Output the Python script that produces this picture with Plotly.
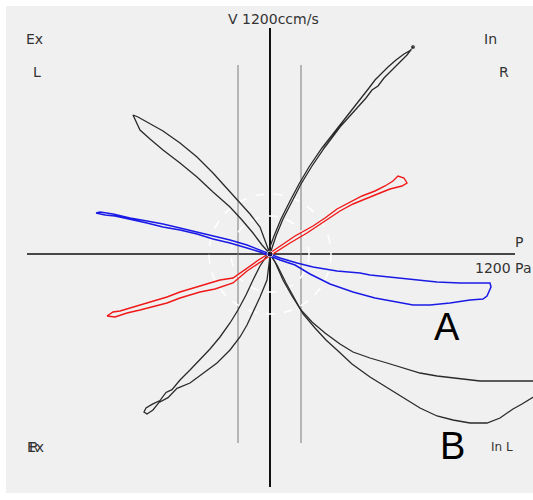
import plotly.graph_objects as go

# courbes pression (Pa) / débit (ccm/s)
# boucle noire haut-droite (In R)
ur_x = [0, 30, 65, 110, 155, 210, 275, 350, 425, 480, 510, 540, 570, 610, 650, 685, 715,
        705, 670, 630, 590, 555, 525, 495, 460, 400, 335, 260, 195, 145, 100, 55, 20, -10]
ur_y = [0, 90, 175, 265, 350, 440, 535, 635, 720, 780, 820, 840, 880, 920, 960, 995, 1035,
        1020, 1000, 970, 935, 900, 870, 830, 785, 705, 625, 530, 435, 350, 265, 175, 90, 10]

# boucle noire bas-gauche
ll_x = [0, -15, -50, -85, -115, -150, -200, -265, -330, -400, -465, -510, -555, -585, -615, -630,
        -620, -590, -550, -520, -490, -450, -400, -350, -300, -250, -200, -160, -120, -85, -50, -20, 0]
ll_y = [-10, -130, -215, -295, -355, -415, -480, -545, -595, -645, -672, -718, -742, -780, -800, -790,
        -770, -752, -733, -692, -678, -630, -580, -530, -475, -415, -345, -280, -205, -130, -60, -15, -10]

# boucle noire haut-gauche
ul_x = [0, -25, -50, -100, -150, -215, -285, -365, -450, -535, -615, -660, -685,
        -675, -650, -600, -535, -450, -365, -285, -200, -140, -85, -40, 0]
ul_y = [0, 70, 135, 200, 255, 330, 405, 485, 555, 615, 660, 685, 695,
        675, 620, 575, 520, 455, 385, 310, 235, 170, 105, 45, 0]

# courbes B (bas-droite)
b1_x = [0, 25, 65, 110, 155, 210, 275, 350, 415, 500, 585, 665, 750, 835, 915, 985, 1050, 1150, 1250, 1350]
b1_y = [0, -40, -130, -210, -280, -340, -395, -450, -490, -520, -545, -570, -595, -610, -620, -630, -635, -635, -635, -635]
b2_x = [0, 35, 80, 125, 165, 225, 280, 335, 410, 500, 580, 665, 750, 835, 915, 1000, 1085, 1150, 1215, 1260, 1315, 1350]
b2_y = [0, -55, -145, -230, -300, -370, -430, -480, -550, -615, -665, -715, -770, -810, -830, -845, -845, -820, -775, -750, -715, -695]

# boucle rouge
red_x = [-815, -785, -750, -650, -515, -450, -350, -250, -185, -115, -50, 0, 50, 125, 215, 275, 335, 400,
         460, 525, 575, 615, 640, 670, 685, 660, 600, 550, 480, 415, 350, 250, 185, 100, 35, -25, -115,
         -185, -275, -350, -450, -515, -650, -715, -775, -815]
red_y = [-310, -290, -285, -255, -215, -190, -160, -130, -120, -70, -25, 5, 40, 90, 140, 180, 225, 260,
         290, 315, 340, 365, 390, 380, 355, 340, 325, 305, 275, 250, 215, 150, 105, 55, 15, -25, -85,
         -145, -175, -190, -220, -245, -280, -295, -315, -310]

# boucle bleue (A)
blue_x = [-870, -850, -785, -700, -615, -535, -450, -365, -285, -200, -115, -50, 0, 50, 135, 215, 335, 450,
          500, 650, 835, 950, 1100, 1105, 1095, 1085, 1065, 1000, 900, 800, 715, 635, 525, 415, 300, 200,
          125, 50, 0, -50, -115, -200, -285, -365, -450, -535, -615, -700, -775, -825, -870]
blue_y = [205, 210, 200, 180, 165, 150, 130, 110, 90, 70, 45, 20, 0, -20, -45, -65, -85, -95,
          -105, -120, -140, -145, -145, -165, -190, -210, -225, -230, -245, -255, -255, -240, -220, -190, -150, -100,
          -55, -30, -10, 10, 30, 55, 75, 100, 120, 135, 155, 175, 190, 195, 205]

black = "#2a2a2a"
fig = go.Figure()
for xs, ys in [(ur_x, ur_y), (ll_x, ll_y), (ul_x, ul_y), (b1_x, b1_y), (b2_x, b2_y)]:
    fig.add_trace(go.Scatter(x=xs, y=ys, mode="lines", line=dict(color=black, width=1.3), hoverinfo="skip"))
fig.add_trace(go.Scatter(x=red_x, y=red_y, mode="lines", line=dict(color="#f01818", width=1.4), hoverinfo="skip"))
fig.add_trace(go.Scatter(x=blue_x, y=blue_y, mode="lines", line=dict(color="#1a1ae6", width=1.5), hoverinfo="skip"))
# points terminaux
fig.add_trace(go.Scatter(x=[ur_x[16], 0], y=[ur_y[16], 0], mode="markers",
                         marker=dict(color="#111", size=[5, 6]), hoverinfo="skip"))

shapes = [
    # axes
    dict(type="line", x0=0, x1=0, y0=-1165, y1=1130, line=dict(color="#111", width=2)),
    dict(type="line", x0=-1215, x1=1225, y0=0, y1=0, line=dict(color="#111", width=1.5)),
    # limites verticales
    dict(type="line", x0=-160, x1=-160, y0=-945, y1=945, line=dict(color="#7a7a7a", width=1)),
    dict(type="line", x0=155, x1=155, y0=-945, y1=945, line=dict(color="#7a7a7a", width=1)),
    # cercles pointillés
    dict(type="circle", x0=-305, x1=305, y0=-300, y1=300, line=dict(color="white", width=1.5, dash="dash")),
    dict(type="circle", x0=-195, x1=195, y0=-190, y1=190, line=dict(color="white", width=1.5, dash="dash")),
]
for s in shapes:
    s["layer"] = "below"
fig.update_layout(shapes=shapes)

lab = dict(family="DejaVu Sans", size=14, color="#333")
big = dict(family="Liberation Sans", size=38, color="#000")
annots = [
    ("V 1200ccm/s", 15, 1175, lab, "center"),
    ("Ex", -1180, 1075, lab, "center"),
    ("L", -1165, 910, lab, "center"),
    ("In", 1100, 1075, lab, "center"),
    ("R", 1170, 910, lab, "center"),
    ("P", 1245, 60, lab, "center"),
    ("1200 Pa", 1015, -70, lab, "left"),
    ("A", 885, -365, big, "center"),
    ("B", 910, -960, big, "center"),
    ("In L", 1160, -965, dict(family="DejaVu Sans", size=12, color="#333"), "center"),
    ("Ex", -1175, -965, lab, "center"),
    ("R", -1178, -965, lab, "center"),
]
for t, x, y, f, anc in annots:
    fig.add_annotation(x=x, y=y, text=t, showarrow=False, font=f, xanchor=anc, yanchor="middle")

fig.update_layout(
    width=533, height=500,
    margin=dict(l=6, r=0, t=6, b=7),
    paper_bgcolor="white", plot_bgcolor="#f0f0f0",
    showlegend=False,
    xaxis=dict(range=[-1320, 1315], visible=False, fixedrange=True),
    yaxis=dict(range=[-1195, 1240], visible=False, fixedrange=True),
)
# sans marge de page, la figure remplit exactement la fenêtre
fig.write_html("out.html", config={"displayModeBar": False},
               post_script="document.body.style.margin='0px';document.body.style.overflow='hidden';")
